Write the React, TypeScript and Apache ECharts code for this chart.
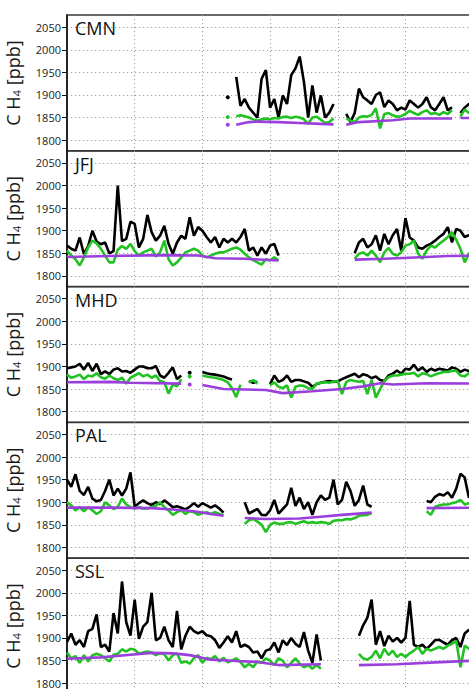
import React, { useEffect, useRef } from "react";
import * as echarts from "echarts";

// ---------- shared axis data ----------
const STATIONS = ["CMN", "JFJ", "MHD", "PAL", "SSL"];
const Y_TICKS = [1800, 1850, 1900, 1950, 2000, 2050];
const Y_MIN = 1776;
const Y_MAX = 2077;
const X_MAX = 104;
const X_STEP = 16;

// ---------- CMN ----------
const CMN_OBS_0 = [1895];
const CMN_OBS_1 = [1940, 1876, 1891, 1872, 1861, 1850, 1936, 1955, 1872, 1891, 1850, 1899, 1880, 1944, 1959, 1985, 1929, 1850, 1921, 1861, 1899, 1850, 1861, 1880];
const CMN_OBS_2 = [1858, 1840, 1860, 1914, 1895, 1888, 1880, 1900, 1906, 1873, 1888, 1880, 1866, 1872, 1868, 1888, 1880, 1872, 1880, 1895, 1873, 1866, 1880, 1895, 1866, 1873];
const CMN_OBS_3 = [1860, 1872, 1880, 1875];
const CMN_MOD_0 = [1851];
const CMN_MOD_1 = [1853, 1855, 1853, 1850, 1846, 1843, 1846, 1848, 1846, 1849, 1848, 1851, 1852, 1849, 1852, 1850, 1846, 1836, 1850, 1852, 1845, 1838, 1840, 1848];
const CMN_MOD_2 = [1848, 1843, 1840, 1850, 1853, 1852, 1856, 1870, 1826, 1858, 1860, 1855, 1852, 1853, 1858, 1865, 1860, 1856, 1862, 1866, 1858, 1860, 1856, 1862, 1858, 1866];
const CMN_MOD_3 = [1852, 1868, 1860, 1865];
const CMN_BG_0 = [[38, 1834]];
const CMN_BG_1 = [[40, 1834], [43, 1840], [45, 1841], [50, 1840], [55, 1838], [60, 1836], [63, 1835]];
const CMN_BG_2 = [[66, 1834], [69, 1840], [77, 1844], [81, 1848], [91, 1848]];
const CMN_BG_3 = [[93, 1849], [97, 1849]];

// ---------- JFJ ----------
const JFJ_OBS_1 = [1867, 1860, 1856, 1885, 1848, 1866, 1900, 1876, 1870, 1874, 1850, 1855, 2000, 1877, 1882, 1920, 1915, 1863, 1882, 1935, 1897, 1878, 1889, 1911, 1871, 1849, 1874, 1889, 1882, 1930, 1889, 1908, 1900, 1886, 1874, 1886, 1863, 1882, 1874, 1882, 1874, 1886, 1904, 1856, 1863, 1845, 1863, 1849, 1867, 1871, 1845];
const JFJ_OBS_2 = [1850, 1874, 1882, 1863, 1870, 1890, 1856, 1893, 1870, 1890, 1904, 1856, 1928, 1885, 1878, 1863, 1860, 1867, 1871, 1878, 1886, 1893, 1908, 1874, 1904, 1900, 1886, 1890, 1880];
const JFJ_MOD_1 = [1856, 1845, 1837, 1823, 1841, 1863, 1878, 1872, 1860, 1845, 1830, 1830, 1858, 1866, 1860, 1871, 1855, 1845, 1852, 1856, 1860, 1843, 1852, 1878, 1837, 1823, 1830, 1841, 1852, 1856, 1860, 1856, 1845, 1841, 1845, 1849, 1852, 1852, 1856, 1860, 1863, 1858, 1849, 1841, 1835, 1830, 1825, 1837, 1834, 1841, 1834];
const JFJ_MOD_2 = [1838, 1849, 1852, 1845, 1856, 1845, 1830, 1852, 1862, 1849, 1845, 1852, 1867, 1870, 1878, 1849, 1838, 1856, 1867, 1863, 1871, 1878, 1886, 1897, 1880, 1860, 1830, 1850, 1845];
const JFJ_BG_1 = [[0, 1842], [10, 1844], [23, 1846], [31, 1845], [35, 1839], [42, 1838], [50, 1834]];
const JFJ_BG_2 = [[68, 1836], [75, 1838], [85, 1842], [90, 1844], [97, 1845]];

// ---------- MHD ----------
const MHD_OBS_1 = [1896, 1898, 1900, 1906, 1893, 1908, 1890, 1906, 1883, 1889, 1883, 1893, 1896, 1889, 1890, 1886, 1893, 1900, 1900, 1896, 1896, 1901, 1880, 1875, 1886, 1898, 1872, 1880];
const MHD_OBS_2 = [1886];
const MHD_OBS_3 = [1888, 1885, 1883, 1882, 1880, 1878, 1874, 1871];
const MHD_OBS_4 = [1868, 1864, 1866];
const MHD_OBS_5 = [1861, 1880, 1866, 1870, 1880, 1866, 1870, 1870, 1867, 1864, 1855, 1861, 1864, 1866, 1868, 1866, 1867, 1872, 1876, 1880, 1884, 1876, 1883, 1880, 1874, 1878, 1870, 1868, 1880, 1884, 1891, 1884, 1895, 1893, 1904, 1891, 1898, 1888, 1895, 1891, 1895, 1893, 1891, 1898, 1895, 1888, 1893, 1890, 1892];
const MHD_MOD_1 = [1882, 1875, 1878, 1882, 1872, 1880, 1878, 1885, 1876, 1873, 1880, 1874, 1870, 1875, 1862, 1875, 1880, 1885, 1878, 1882, 1875, 1880, 1868, 1865, 1840, 1860, 1856, 1872];
const MHD_MOD_2 = [1878];
const MHD_MOD_3 = [1880, 1878, 1876, 1875, 1873, 1870, 1865, 1852, 1832, 1860];
const MHD_MOD_4 = [1865, 1870, 1862];
const MHD_MOD_5 = [1858, 1865, 1855, 1852, 1858, 1831, 1855, 1858, 1857, 1852, 1850, 1862, 1864, 1865, 1864, 1866, 1868, 1839, 1866, 1870, 1868, 1866, 1868, 1839, 1870, 1831, 1850, 1868, 1876, 1880, 1880, 1882, 1884, 1884, 1886, 1878, 1885, 1883, 1878, 1882, 1885, 1888, 1888, 1890, 1891, 1880, 1878, 1885, 1882];
const MHD_BG_1 = [[0, 1865], [10, 1866], [15, 1864], [27, 1862]];
const MHD_BG_2 = [[29, 1860]];
const MHD_BG_3 = [[32, 1859], [37, 1850], [47, 1848], [51, 1841], [58, 1845], [65, 1850], [70, 1856], [74, 1863], [77, 1860], [85, 1863], [97, 1862]];

// ---------- PAL ----------
const PAL_OBS_1 = [1950, 1934, 1962, 1925, 1916, 1934, 1908, 1902, 1905, 1925, 1950, 1915, 1930, 1915, 1930, 1966, 1890, 1898, 1904, 1898, 1894, 1900, 1896, 1904, 1897, 1889, 1891, 1888, 1884, 1890, 1898, 1890, 1898, 1893, 1888, 1893, 1886, 1877];
const PAL_OBS_2 = [1900, 1875, 1880, 1885, 1872, 1871, 1882, 1905, 1875, 1885, 1895, 1932, 1892, 1910, 1885, 1900, 1872, 1900, 1915, 1905, 1910, 1950, 1895, 1905, 1945, 1925, 1892, 1905, 1937, 1895, 1890];
const PAL_OBS_3 = [1903, 1900, 1912, 1918, 1915, 1922, 1910, 1930, 1963, 1955, 1910, 1925];
const PAL_MOD_1 = [1900, 1893, 1882, 1889, 1880, 1889, 1882, 1874, 1880, 1900, 1893, 1885, 1890, 1908, 1895, 1889, 1886, 1889, 1886, 1886, 1889, 1892, 1900, 1889, 1882, 1872, 1878, 1882, 1874, 1880, 1878, 1872, 1876, 1878, 1874, 1878, 1874, 1871];
const PAL_MOD_2 = [1852, 1860, 1863, 1857, 1850, 1834, 1850, 1855, 1852, 1852, 1855, 1856, 1852, 1855, 1858, 1854, 1856, 1854, 1856, 1855, 1852, 1859, 1860, 1860, 1863, 1862, 1865, 1870, 1871, 1872, 1876];
const PAL_MOD_3 = [1880, 1872, 1890, 1893, 1895, 1895, 1898, 1900, 1905, 1895, 1898, 1900];
const PAL_BG_1 = [[0, 1888], [10, 1888], [20, 1887], [25, 1884], [30, 1880], [34, 1874], [37, 1870]];
const PAL_BG_2 = [[42, 1865], [47, 1863], [55, 1864], [60, 1868], [65, 1872], [72, 1877]];
const PAL_BG_3 = [[85, 1887], [97, 1888]];

// ---------- SSL ----------
const SSL_OBS_1 = [1891, 1910, 1885, 1895, 1880, 1915, 1920, 1952, 1880, 1885, 1870, 1955, 1910, 2025, 1935, 1905, 1985, 1898, 1925, 1935, 2000, 1895, 1900, 1925, 1895, 1880, 1960, 1875, 1905, 1925, 1915, 1910, 1915, 1906, 1904, 1895, 1878, 1890, 1904, 1890, 1915, 1880, 1885, 1880, 1868, 1870, 1855, 1872, 1875, 1890, 1868, 1895, 1884, 1900, 1887, 1880, 1913, 1872, 1845, 1908, 1850];
const SSL_OBS_2 = [1905, 1928, 1945, 1985, 1885, 1915, 1882, 1905, 1892, 1900, 1890, 1900, 1982, 1885, 1880, 1885, 1876, 1885, 1895, 1896, 1890, 1885, 1895, 1900, 1880, 1910, 1918, 1905];
const SSL_MOD_1 = [1868, 1855, 1860, 1845, 1862, 1848, 1862, 1865, 1862, 1855, 1848, 1863, 1865, 1875, 1870, 1876, 1874, 1865, 1868, 1870, 1868, 1862, 1866, 1864, 1850, 1862, 1866, 1845, 1848, 1843, 1855, 1862, 1845, 1856, 1853, 1860, 1848, 1856, 1846, 1850, 1855, 1847, 1835, 1843, 1835, 1848, 1845, 1855, 1850, 1840, 1855, 1850, 1835, 1845, 1855, 1843, 1835, 1840, 1832, 1840, 1832];
const SSL_MOD_2 = [1865, 1855, 1852, 1858, 1872, 1855, 1876, 1862, 1872, 1858, 1865, 1858, 1866, 1872, 1880, 1865, 1876, 1872, 1876, 1880, 1876, 1883, 1887, 1894, 1835, 1883, 1876, 1880];
const SSL_BG_1 = [[0, 1854], [8, 1857], [15, 1863], [20, 1867], [25, 1866], [29, 1862], [34, 1852], [40, 1849], [45, 1847], [50, 1840], [60, 1842]];
const SSL_BG_2 = [[69, 1840], [78, 1842], [87, 1846], [97, 1850]];

// segments: [start index, values]
type Seg = [number, number[]];
const OBS: Seg[][] = [
  [[38, CMN_OBS_0], [40, CMN_OBS_1], [66, CMN_OBS_2], [93, CMN_OBS_3]],
  [[0, JFJ_OBS_1], [68, JFJ_OBS_2]],
  [[0, MHD_OBS_1], [29, MHD_OBS_2], [32, MHD_OBS_3], [43, MHD_OBS_4], [48, MHD_OBS_5]],
  [[0, PAL_OBS_1], [42, PAL_OBS_2], [85, PAL_OBS_3]],
  [[0, SSL_OBS_1], [69, SSL_OBS_2]],
];
const MOD: Seg[][] = [
  [[38, CMN_MOD_0], [40, CMN_MOD_1], [66, CMN_MOD_2], [93, CMN_MOD_3]],
  [[0, JFJ_MOD_1], [68, JFJ_MOD_2]],
  [[0, MHD_MOD_1], [29, MHD_MOD_2], [32, MHD_MOD_3], [43, MHD_MOD_4], [48, MHD_MOD_5]],
  [[0, PAL_MOD_1], [42, PAL_MOD_2], [85, PAL_MOD_3]],
  [[0, SSL_MOD_1], [69, SSL_MOD_2]],
];
const BG: number[][][][] = [
  [CMN_BG_0, CMN_BG_1, CMN_BG_2, CMN_BG_3],
  [JFJ_BG_1, JFJ_BG_2],
  [MHD_BG_1, MHD_BG_2, MHD_BG_3],
  [PAL_BG_1, PAL_BG_2, PAL_BG_3],
  [SSL_BG_1, SSL_BG_2],
];

const FONT = "Open Sans";
const C_OBS = "#000000";
const C_MOD = "#22c222";
const C_BG = "#9a3fdc";
const LINE_W = 2.6;

function pointsToData(segments: number[][][]) {
  const out: any[] = [];
  segments.forEach((pts, k) => {
    if (k > 0) out.push({ value: [pts[0][0] - 0.5, null] });
    pts.forEach((p) => {
      const item: any = { value: [p[0], p[1]] };
      if (pts.length === 1) {
        item.symbol = "circle";
        item.symbolSize = 4;
      }
      out.push(item);
    });
  });
  return out;
}

function segsToPoints(segs: Seg[]): number[][][] {
  return segs.map(([start, vals]) => vals.map((v, j) => [start + j, v]));
}

export default function App() {
  const ref = useRef<HTMLDivElement>(null);
  useEffect(() => {
    if (!ref.current) return;
    const chart = echarts.init(ref.current, undefined, { renderer: "svg" });
    const panelH = 136;
    const step = 135.75;
    const tops = STATIONS.map((_, k) => 15 + k * step);
    const dotted = { color: "#9c9c9c", width: 1, type: [1.2, 2.8] as any };

    const grid = tops.map((t) => ({
      left: 67,
      top: t,
      width: 440,
      height: panelH,
      show: true,
      borderColor: "#3a3a3a",
      borderWidth: 1.5,
      backgroundColor: "transparent",
      containLabel: false,
      outerBoundsMode: "none",
    }));
    const xAxis = tops.map((_, k) => ({
      type: "value",
      gridIndex: k,
      min: 0,
      max: X_MAX,
      interval: X_STEP,
      axisLine: { show: false },
      axisTick: { show: false },
      axisLabel: { show: false },
      splitLine: { show: true, lineStyle: dotted },
    }));
    const yAxis = tops.map((_, k) => ({
      type: "value",
      gridIndex: k,
      min: Y_MIN,
      max: Y_MAX,
      axisLine: { show: true, onZero: false, lineStyle: { color: "#111", width: 1.6 } },
      axisTick: { show: true, customValues: Y_TICKS, length: 5, lineStyle: { color: "#111", width: 1 } },
      axisLabel: {
        customValues: Y_TICKS,
        fontSize: 11,
        color: "#1a1a1a",
        margin: 6,
        fontFamily: FONT,
        formatter: (v: number) => String(v),
      },
      splitLine: { show: true, lineStyle: dotted },
      name: "{n|C H}{s|4}{n| [ppb]}",
      nameLocation: "middle",
      nameRotate: 90,
      nameGap: 45,
      nameTextStyle: {
        fontSize: 18,
        fontFamily: FONT,
        color: "#1a1a1a",
        rich: {
          n: { fontSize: 18, fontFamily: FONT, color: "#1a1a1a" },
          s: { fontSize: 11.5, fontFamily: FONT, color: "#1a1a1a", verticalAlign: "bottom" },
        },
      },
    }));
    const title = STATIONS.map((s, k) => ({
      text: s,
      left: 75,
      top: tops[k] + 4,
      padding: 0,
      textStyle: { fontSize: 18, fontWeight: "normal", fontFamily: FONT, color: "#111" },
    }));

    const series: any[] = [];
    STATIONS.forEach((_, k) => {
      const common = {
        type: "line",
        xAxisIndex: k,
        yAxisIndex: k,
        showSymbol: true,
        showAllSymbol: true,
        symbol: "none",
        connectNulls: false,
        silent: true,
        clip: true,
      };
      series.push({ ...common, z: 3, data: pointsToData(segsToPoints(OBS[k])), lineStyle: { color: C_OBS, width: LINE_W }, itemStyle: { color: C_OBS } });
      series.push({ ...common, z: 4, data: pointsToData(segsToPoints(MOD[k])), lineStyle: { color: C_MOD, width: LINE_W }, itemStyle: { color: C_MOD } });
      series.push({ ...common, z: 5, data: pointsToData(BG[k]), lineStyle: { color: C_BG, width: LINE_W }, itemStyle: { color: C_BG } });
    });

    chart.setOption({
      animation: false,
      backgroundColor: "#ffffff",
      title,
      grid,
      xAxis,
      yAxis,
      series,
    });
    return () => chart.dispose();
  }, []);
  return <div ref={ref} style={{ position: "absolute", left: 0, top: 0, width: 469, height: 689 }} />;
}
